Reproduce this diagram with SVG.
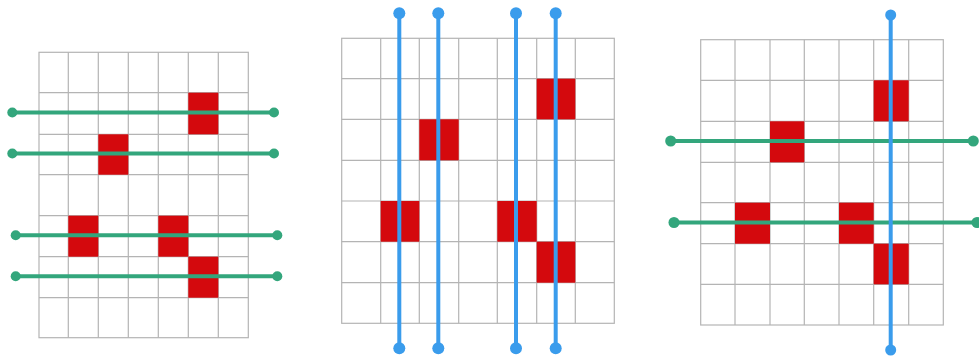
<svg xmlns="http://www.w3.org/2000/svg" width="979" height="356" viewBox="0 0 979 356">
<style>
.grid line,.grid rect.b{stroke:#b4b4b4;stroke-width:1.2;fill:none}
.cell{fill:#d4090d}
.g{stroke:#33a67c;stroke-width:4;fill:none}
.gd{fill:#33a67c}
.bl{stroke:#3a9cec;stroke-width:4;fill:none}
.bd{fill:#3a9cec}
</style>
<rect width="979" height="356" fill="#ffffff"/>
<g id="grid-left" class="grid">
<rect class="b" x="39" y="52.3" width="209.3" height="285.4"/>
<line x1="68.3" y1="52.3" x2="68.3" y2="337.7"/>
<line x1="98.3" y1="52.3" x2="98.3" y2="337.7"/>
<line x1="128.3" y1="52.3" x2="128.3" y2="337.7"/>
<line x1="158.3" y1="52.3" x2="158.3" y2="337.7"/>
<line x1="188.3" y1="52.3" x2="188.3" y2="337.7"/>
<line x1="218.3" y1="52.3" x2="218.3" y2="337.7"/>
<line x1="39" y1="92.7" x2="248.3" y2="92.7"/>
<line x1="39" y1="134.3" x2="248.3" y2="134.3"/>
<line x1="39" y1="174.7" x2="248.3" y2="174.7"/>
<line x1="39" y1="215.7" x2="248.3" y2="215.7"/>
<line x1="39" y1="256.7" x2="248.3" y2="256.7"/>
<line x1="39" y1="297.7" x2="248.3" y2="297.7"/>
<rect class="cell" x="188.3" y="92.7" width="30" height="41.6"/>
<rect class="cell" x="98.3" y="134.3" width="30" height="40.4"/>
<rect class="cell" x="68.3" y="215.7" width="30" height="41"/>
<rect class="cell" x="158.3" y="215.7" width="30" height="41"/>
<rect class="cell" x="188.3" y="256.7" width="30" height="41"/>
</g>
<g id="grid-middle" class="grid">
<rect class="b" x="341.7" y="38.3" width="272.6" height="285"/>
<line x1="380.7" y1="38.3" x2="380.7" y2="323.3"/>
<line x1="419.3" y1="38.3" x2="419.3" y2="323.3"/>
<line x1="458.7" y1="38.3" x2="458.7" y2="323.3"/>
<line x1="497.3" y1="38.3" x2="497.3" y2="323.3"/>
<line x1="536.7" y1="38.3" x2="536.7" y2="323.3"/>
<line x1="575.3" y1="38.3" x2="575.3" y2="323.3"/>
<line x1="341.7" y1="78.7" x2="614.3" y2="78.7"/>
<line x1="341.7" y1="119.3" x2="614.3" y2="119.3"/>
<line x1="341.7" y1="160.3" x2="614.3" y2="160.3"/>
<line x1="341.7" y1="201" x2="614.3" y2="201"/>
<line x1="341.7" y1="241.7" x2="614.3" y2="241.7"/>
<line x1="341.7" y1="282.7" x2="614.3" y2="282.7"/>
<rect class="cell" x="536.7" y="78.7" width="38.6" height="40.6"/>
<rect class="cell" x="419.3" y="119.3" width="39.4" height="41"/>
<rect class="cell" x="380.7" y="201" width="38.6" height="40.7"/>
<rect class="cell" x="497.3" y="201" width="39.4" height="40.7"/>
<rect class="cell" x="536.7" y="241.7" width="38.6" height="41"/>
</g>
<g id="grid-right" class="grid">
<rect class="b" x="700.7" y="39.7" width="242.6" height="285.3"/>
<line x1="735" y1="39.7" x2="735" y2="325"/>
<line x1="770" y1="39.7" x2="770" y2="325"/>
<line x1="804.3" y1="39.7" x2="804.3" y2="325"/>
<line x1="839" y1="39.7" x2="839" y2="325"/>
<line x1="873.7" y1="39.7" x2="873.7" y2="325"/>
<line x1="908.7" y1="39.7" x2="908.7" y2="325"/>
<line x1="700.7" y1="80.3" x2="943.3" y2="80.3"/>
<line x1="700.7" y1="121.3" x2="943.3" y2="121.3"/>
<line x1="700.7" y1="162.3" x2="943.3" y2="162.3"/>
<line x1="700.7" y1="202.7" x2="943.3" y2="202.7"/>
<line x1="700.7" y1="243.7" x2="943.3" y2="243.7"/>
<line x1="700.7" y1="284.3" x2="943.3" y2="284.3"/>
<rect class="cell" x="873.7" y="80.3" width="35" height="41"/>
<rect class="cell" x="770" y="121.3" width="34.3" height="41"/>
<rect class="cell" x="735" y="202.7" width="35" height="41"/>
<rect class="cell" x="839" y="202.7" width="34.7" height="41"/>
<rect class="cell" x="873.7" y="243.7" width="35" height="40.6"/>
</g>
<g id="connectors">
<line class="g" x1="12.3" y1="112.5" x2="274" y2="112.5"/>
<circle class="gd" cx="12.3" cy="112.5" r="5"/><circle class="gd" cx="274" cy="112.5" r="5"/>
<line class="g" x1="12.3" y1="153.5" x2="274" y2="153.5"/>
<circle class="gd" cx="12.3" cy="153.5" r="5"/><circle class="gd" cx="274" cy="153.5" r="5"/>
<line class="g" x1="15.7" y1="235.3" x2="277.3" y2="235.3"/>
<circle class="gd" cx="15.7" cy="235.3" r="5"/><circle class="gd" cx="277.3" cy="235.3" r="5"/>
<line class="g" x1="15.7" y1="276.3" x2="277.3" y2="276.3"/>
<circle class="gd" cx="15.7" cy="276.3" r="5"/><circle class="gd" cx="277.3" cy="276.3" r="5"/>

<line class="bl" x1="399.3" y1="13.3" x2="399.3" y2="348.3"/>
<circle class="bd" cx="399.3" cy="13.3" r="6"/><circle class="bd" cx="399.3" cy="348.3" r="6"/>
<line class="bl" x1="438.3" y1="13.3" x2="438.3" y2="348.3"/>
<circle class="bd" cx="438.3" cy="13.3" r="6"/><circle class="bd" cx="438.3" cy="348.3" r="6"/>
<line class="bl" x1="516" y1="13.3" x2="516" y2="348.3"/>
<circle class="bd" cx="516" cy="13.3" r="6"/><circle class="bd" cx="516" cy="348.3" r="6"/>
<line class="bl" x1="555.7" y1="13.3" x2="555.7" y2="348.3"/>
<circle class="bd" cx="555.7" cy="13.3" r="6"/><circle class="bd" cx="555.7" cy="348.3" r="6"/>

<line class="g" x1="670.7" y1="141" x2="973.3" y2="141"/>
<circle class="gd" cx="670.7" cy="141" r="5.5"/><circle class="gd" cx="973.3" cy="141" r="5.5"/>
<line class="g" x1="674" y1="222.5" x2="977" y2="222.5"/>
<circle class="gd" cx="674" cy="222.5" r="5.5"/><circle class="gd" cx="977" cy="222.5" r="5.5"/>

<line class="bl" x1="890.7" y1="15" x2="890.7" y2="350"/>
<circle class="bd" cx="890.7" cy="15" r="5.5"/><circle class="bd" cx="890.7" cy="350" r="5.5"/>
</g>
</svg>
